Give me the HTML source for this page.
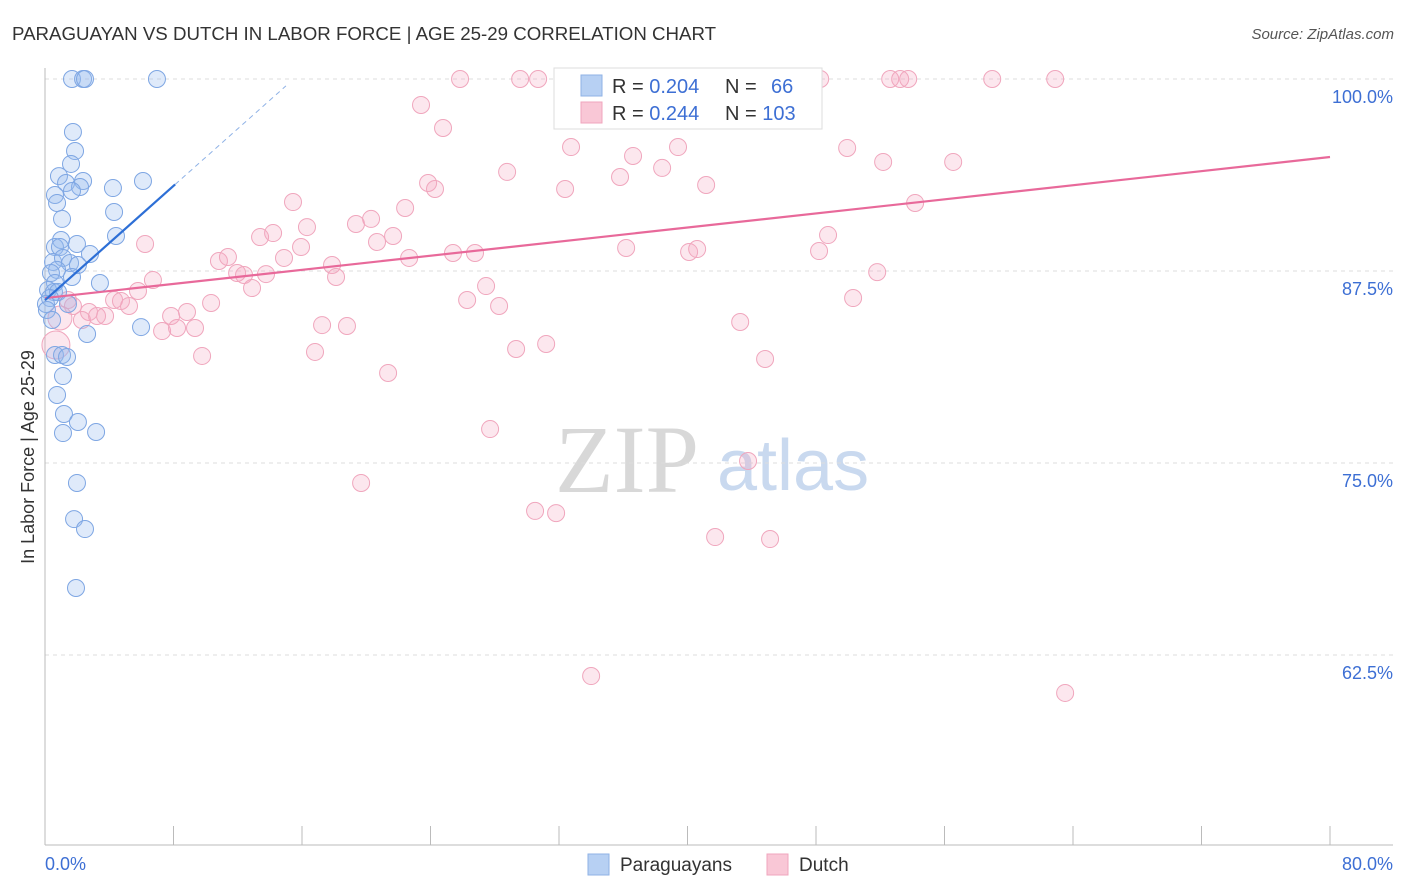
<!DOCTYPE html>
<html><head><meta charset="utf-8">
<style>
body{margin:0;background:#fff;font-family:"Liberation Sans",sans-serif;}
svg{display:block}
</style></head>
<body>
<svg id="chart" width="1406" height="892" xmlns="http://www.w3.org/2000/svg">
<text x="12" y="40" font-size="18.7" fill="#333">PARAGUAYAN VS DUTCH IN LABOR FORCE | AGE 25-29 CORRELATION CHART</text>
<text x="1394" y="39" font-size="15" fill="#555" text-anchor="end" font-style="italic">Source: ZipAtlas.com</text>
<g>
<text x="555" y="492" font-size="96" font-family="Liberation Serif,serif" fill="#d8d8d8">ZIP</text>
<text x="717" y="490" font-size="72" fill="#c9d9ef">atlas</text>
</g>
<g id="grid"></g>
<g id="axes"></g>
<g id="pink"></g>
<g id="blue"></g>
<g id="lines"></g>
<text x="34" y="457" font-size="18" fill="#333" text-anchor="middle" transform="rotate(-90 34 457)">In Labor Force | Age 25-29</text>
<g>
<rect x="554" y="68" width="268" height="61" fill="#fff" stroke="#ddd"/>
<rect x="581" y="75" width="21" height="21" fill="#b7d0f3" stroke="#8fb2e6"/>
<rect x="581" y="102" width="21" height="21" fill="#f9c7d6" stroke="#f0a6bd"/>
<text x="612" y="93" font-size="20" fill="#333">R = <tspan fill="#3d6fd4">0.204</tspan></text>
<text x="725" y="93" font-size="20" fill="#333">N = <tspan fill="#3d6fd4" x="771">66</tspan></text>
<text x="612" y="120" font-size="20" fill="#333">R = <tspan fill="#3d6fd4">0.244</tspan></text>
<text x="725" y="120" font-size="20" fill="#333">N = <tspan fill="#3d6fd4">103</tspan></text>
</g>
<g>
<rect x="588" y="854" width="21" height="21" fill="#b7d0f3" stroke="#8fb2e6"/>
<text x="620" y="871" font-size="19" fill="#333">Paraguayans</text>
<rect x="767" y="854" width="21" height="21" fill="#f9c7d6" stroke="#f0a6bd"/>
<text x="799" y="871" font-size="19" fill="#333">Dutch</text>
</g>
</svg>
<script>
const yTicks=[100,87.5,75,62.5];
const yTickLabels=["100.0%","87.5%","75.0%","62.5%"];
const xTickLabels=["0.0%","80.0%"];
const blueX=[1.68,2.37,2.49,6.97,1.74,1.87,1.62,0.87,1.31,2.37,2.18,1.68,0.62,0.75,1.06,4.23,6.10,4.30,4.42,1.00,0.62,0.93,1.99,2.80,0.50,1.12,1.56,2.05,0.75,0.37,1.68,3.42,0.62,0.19,0.56,0.81,0.31,0.06,1.43,0.12,0.44,2.62,5.98,0.62,1.06,1.37,1.12,0.75,1.18,2.05,3.18,1.12,1.99,1.81,2.49,1.93];
const blueY=[100,100,100,100,96.55,95.31,94.47,93.68,93.23,93.36,92.97,92.71,92.45,91.93,90.89,92.9,93.36,91.34,89.78,89.52,89.06,89.06,89.26,88.61,88.09,88.35,88.02,87.89,87.57,87.37,87.11,86.72,86.72,86.26,86.13,86.13,85.74,85.35,85.35,84.96,84.31,83.40,83.85,82.03,82.03,81.90,80.66,79.43,78.19,77.67,77.02,76.95,73.70,71.35,70.70,66.86];
const pinkX=[25.84,29.58,30.70,33.06,38.92,43.77,48.26,52.62,53.24,53.74,58.97,62.89,23.41,24.78,32.75,36.61,39.41,28.77,35.80,38.42,41.16,32.38,23.85,24.28,49.94,52.18,56.54,54.17,15.44,22.42,16.31,19.36,20.30,21.67,20.67,14.20,13.39,6.23,15.94,25.40,26.77,36.18,40.10,40.60,48.75,48.19,22.67,10.83,11.39,14.88,17.87,11.96,12.39,13.76,18.12,6.72,12.89,51.81,27.46,5.79,10.34,26.28,28.27,50.31,4.30,4.73,5.23,1.43,1.74,8.84,7.85,2.74,3.24,3.74,2.30,7.29,8.22,9.34,17.25,18.80,43.28,16.81,9.78,29.33,31.20,44.83,21.36,19.68,27.71,43.77,30.51,31.82,41.72,45.14,34.00,63.51,0.68,0.93];
const pinkY=[100,100,100,100,100,100,100,100,100,100,100,100,98.31,96.81,95.57,94.99,95.57,93.95,93.62,94.21,93.10,92.84,93.23,92.84,95.51,94.60,94.60,91.93,91.99,91.60,90.36,90.56,90.89,89.78,89.39,89.97,89.71,89.26,89.06,88.67,88.67,89.00,88.74,88.93,89.84,88.80,88.35,88.15,88.41,88.35,87.89,87.37,87.24,87.30,87.11,86.91,86.39,87.43,86.52,86.20,85.42,85.61,85.22,85.74,85.61,85.55,85.22,85.61,85.22,84.83,84.57,84.83,84.57,84.57,84.31,83.59,83.79,83.79,83.98,83.92,84.18,82.23,81.97,82.42,82.75,81.77,80.86,73.70,77.21,75.13,71.88,71.74,70.18,70.05,61.13,60.03,82.68,84.44];
const blueTrend=[85.6,0.93];
const pinkTrend=[85.74,94.92];
const NS="http://www.w3.org/2000/svg";
const X0=45,X1=1330;
function sx(v){return X0+(v/80)*(X1-X0);}
function sy(v){return 79+(100-v)*15.36;}
function mk(t,a,p){const e=document.createElementNS(NS,t);for(const k in a)e.setAttribute(k,a[k]);p.appendChild(e);return e;}
const grid=document.getElementById('grid'),axes=document.getElementById('axes');
yTicks.forEach((t,i)=>{
  const l=mk('line',{x1:X0,x2:1393,y1:sy(t),y2:sy(t),stroke:'#ddd','stroke-dasharray':'4,4'},grid);
  
  
  const tx=mk('text',{x:1393,y:sy(t)+24,'font-size':18,fill:'#3d6fd4','text-anchor':'end'},axes);
  tx.textContent=yTickLabels[i];
  
  
});
mk('line',{x1:X0,x2:X0,y1:68,y2:845,stroke:'#bbb'},axes);
mk('line',{x1:X0,x2:1393,y1:845,y2:845,stroke:'#bbb'},axes);
for(let i=1;i<=10;i++){const v=i*8;const t=mk('line',{x1:sx(v),x2:sx(v),y1:826,y2:845,stroke:'#bbb'},axes);
  
  }
[[0,'start',45],[80,'end',1393]].forEach((d,i)=>{const tx=mk('text',{x:d[2],y:870,'font-size':18,fill:'#3d6fd4','text-anchor':d[1]},axes);tx.textContent=xTickLabels[i];
  
  });
const pg=document.getElementById('pink');
pinkX.forEach((x,i)=>{const big=i>=pinkX.length-2;const c=mk('circle',{cx:sx(x),cy:sy(pinkY[i]),r:big?(i==pinkX.length-2?14:12):8.5,fill:'rgba(246,170,195,0.28)',stroke:'#f0a6bd','stroke-width':1},pg);
  
  });
const bg=document.getElementById('blue');
blueX.forEach((x,i)=>{const c=mk('circle',{cx:sx(x),cy:sy(blueY[i]),r:8.5,fill:'rgba(150,185,240,0.3)',stroke:'#7ea6e3','stroke-width':1},bg);
  
  });
const lg=document.getElementById('lines');
const pl=mk('line',{x1:sx(0),y1:sy(pinkTrend[0]),x2:sx(80),y2:sy(pinkTrend[1]),stroke:'#e8699a','stroke-width':2.2},lg);


const bl=mk('line',{x1:sx(0),y1:sy(blueTrend[0]),x2:sx(8.1),y2:sy(blueTrend[0]+blueTrend[1]*8.1),stroke:'#2d6fd6','stroke-width':2.2},lg);


const bd=mk('line',{x1:sx(8.1),y1:sy(blueTrend[0]+blueTrend[1]*8.1),x2:sx(15),y2:sy(blueTrend[0]+blueTrend[1]*15),stroke:'#8fb2e6','stroke-width':1,'stroke-dasharray':'5,4'},lg);


</script>
</body></html>
